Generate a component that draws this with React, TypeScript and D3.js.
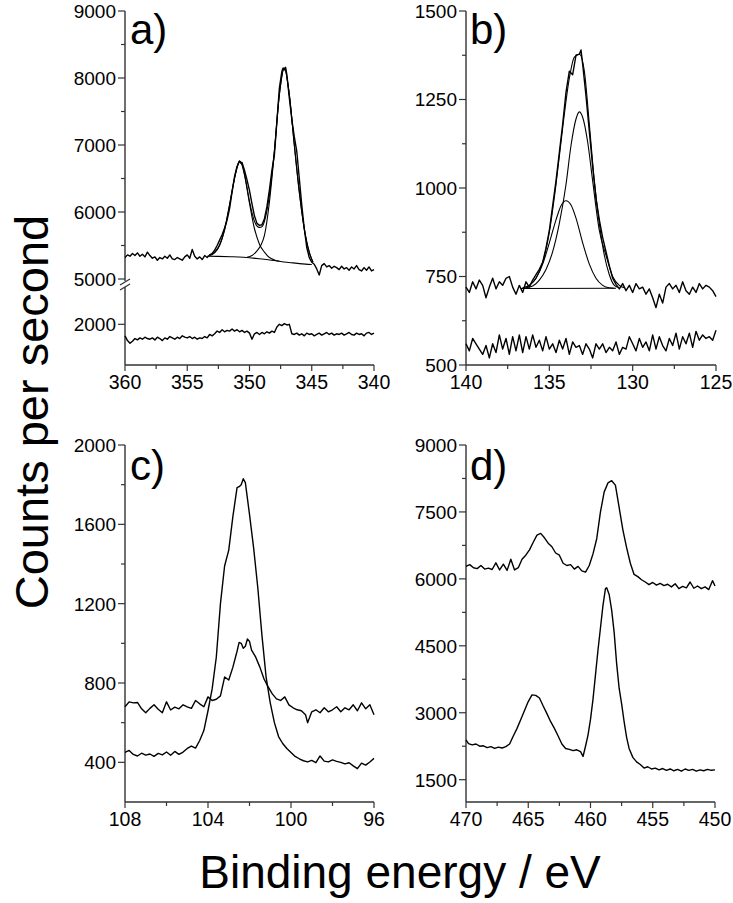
import * as d3 from 'd3';
import * as React from 'react';

type Pt = [number, number];

// a) 360-340 eV, fitted spectrum (top) and second spectrum below the axis break
const aRaw: Pt[] = [
  [360.0, 5320], [359.8, 5360], [359.6, 5340], [359.4, 5380], [359.2, 5350], [359.0, 5390], [358.8, 5340],
  [358.6, 5370], [358.4, 5330], [358.2, 5400], [358.0, 5350], [357.8, 5310], [357.6, 5330], [357.4, 5280],
  [357.2, 5320], [357.0, 5300], [356.8, 5340], [356.6, 5310], [356.4, 5360], [356.2, 5300], [356.0, 5290],
  [355.8, 5320], [355.6, 5300], [355.4, 5280], [355.2, 5330], [355.0, 5360], [354.8, 5310], [354.6, 5440],
  [354.4, 5340], [354.2, 5300], [354.0, 5330], [353.8, 5290], [353.6, 5350], [353.4, 5320], [353.2, 5360],
  [353.0, 5380], [352.8, 5430], [352.6, 5500], [352.4, 5580], [352.2, 5660], [352.0, 5760], [351.8, 5880],
  [351.6, 6050], [351.4, 6300], [351.2, 6530], [351.0, 6680], [350.8, 6760], [350.7, 6730], [350.6, 6740],
  [350.4, 6620], [350.2, 6480], [350.0, 6320], [349.8, 6120], [349.6, 5940], [349.4, 5830], [349.2, 5800],
  [349.0, 5810], [348.8, 5900], [348.6, 6080], [348.4, 6330], [348.2, 6620], [348.0, 6850], [347.8, 7350],
  [347.6, 7850], [347.4, 8100], [347.3, 8150], [347.2, 8120], [347.1, 8160], [347.0, 8050], [346.8, 7700],
  [346.6, 7380], [346.4, 7120], [346.2, 6900], [346.0, 6500], [345.8, 6100], [345.6, 5750], [345.4, 5470],
  [345.2, 5320], [345.0, 5250], [344.8, 5220], [344.6, 5150], [344.4, 5060], [344.2, 5200], [344.0, 5230],
  [343.8, 5180], [343.6, 5200], [343.4, 5160], [343.2, 5190], [343.0, 5170], [342.8, 5140], [342.6, 5190],
  [342.4, 5150], [342.2, 5170], [342.0, 5130], [341.8, 5180], [341.6, 5150], [341.4, 5200], [341.2, 5140],
  [341.0, 5120], [340.8, 5170], [340.6, 5130], [340.4, 5180], [340.2, 5120], [340.0, 5140],
];
const aFit: Pt[] = [
  [353.2, 5360], [352.8, 5400], [352.4, 5510], [352.0, 5745], [351.6, 6115], [351.2, 6510], [351.0, 6670],
  [350.8, 6760], [350.6, 6715], [350.4, 6570], [350.0, 6160], [349.6, 5860], [349.2, 5770], [349.0, 5780],
  [348.8, 5860], [348.4, 6250], [348.0, 6920], [347.6, 7760], [347.2, 8150], [346.8, 7750], [346.4, 7000],
  [346.0, 6300], [345.6, 5750], [345.2, 5400], [344.9, 5250],
];
const aPeak1: Pt[] = [
  [353.2, 5350], [352.8, 5390], [352.4, 5500], [352.0, 5730], [351.6, 6100], [351.2, 6500], [351.0, 6660],
  [350.8, 6750], [350.6, 6700], [350.4, 6550], [350.0, 6130], [349.6, 5750], [349.2, 5520], [348.8, 5400],
  [348.4, 5320], [348.0, 5285], [347.6, 5265],
];
const aPeak2: Pt[] = [
  [350.2, 5325], [349.8, 5350], [349.4, 5420], [349.1, 5500], [348.8, 5650], [348.4, 6150], [348.0, 6900],
  [347.6, 7750], [347.2, 8150], [346.8, 7750], [346.4, 7000], [346.0, 6300], [345.6, 5750], [345.2, 5400],
  [344.9, 5250],
];
const aBackground: Pt[] = [
  [353.4, 5340], [352.5, 5338], [351.5, 5333], [350.5, 5325], [350.0, 5318], [349.5, 5308], [349.0, 5298],
  [348.5, 5288], [348.0, 5276], [347.5, 5262], [347.0, 5250], [346.5, 5240], [346.0, 5230], [345.5, 5222],
  [345.0, 5216],
];
const aLower: Pt[] = [
  [360.0, 1830], [359.8, 1760], [359.6, 1720], [359.4, 1750], [359.2, 1790], [359.0, 1770], [358.8, 1800],
  [358.6, 1780], [358.4, 1810], [358.2, 1790], [358.0, 1780], [357.8, 1800], [357.6, 1770], [357.4, 1810],
  [357.2, 1790], [357.0, 1760], [356.8, 1800], [356.6, 1780], [356.4, 1820], [356.2, 1800], [356.0, 1780],
  [355.8, 1810], [355.6, 1790], [355.4, 1830], [355.2, 1810], [355.0, 1800], [354.8, 1820], [354.6, 1790],
  [354.4, 1810], [354.2, 1780], [354.0, 1800], [353.8, 1790], [353.6, 1820], [353.4, 1800], [353.2, 1850],
  [353.0, 1830], [352.8, 1860], [352.6, 1900], [352.4, 1880], [352.2, 1920], [352.0, 1890], [351.8, 1910],
  [351.6, 1900], [351.4, 1930], [351.2, 1900], [351.0, 1920], [350.8, 1890], [350.6, 1910], [350.4, 1880],
  [350.2, 1900], [350.0, 1870], [349.8, 1780], [349.6, 1860], [349.4, 1880], [349.2, 1850], [349.0, 1880],
  [348.8, 1860], [348.6, 1890], [348.4, 1870], [348.2, 1900], [348.0, 1880], [347.8, 1960], [347.6, 2000],
  [347.4, 1980], [347.2, 2010], [347.0, 1990], [346.8, 2000], [346.6, 1860], [346.4, 1850], [346.2, 1870],
  [346.0, 1840], [345.8, 1860], [345.6, 1830], [345.4, 1870], [345.2, 1850], [345.0, 1860], [344.8, 1830],
  [344.6, 1850], [344.4, 1870], [344.2, 1840], [344.0, 1860], [343.8, 1880], [343.6, 1850], [343.4, 1870],
  [343.2, 1840], [343.0, 1860], [342.8, 1850], [342.6, 1870], [342.4, 1840], [342.2, 1860], [342.0, 1880],
  [341.8, 1850], [341.6, 1840], [341.4, 1870], [341.2, 1850], [341.0, 1860], [340.8, 1830], [340.6, 1870],
  [340.4, 1880], [340.2, 1850], [340.0, 1870],
];

// b) 140-125 eV
const bRaw: Pt[] = [
  [140.0, 720], [139.8, 705], [139.6, 735], [139.4, 715], [139.2, 740], [139.0, 725], [138.8, 690],
  [138.6, 720], [138.4, 745], [138.2, 715], [138.0, 735], [137.8, 725], [137.6, 745], [137.4, 750],
  [137.2, 720], [137.0, 700], [136.8, 725], [136.6, 705], [136.4, 735], [136.2, 720], [136.0, 740],
  [135.8, 755], [135.6, 770], [135.4, 790], [135.2, 830], [135.0, 880], [134.8, 950], [134.6, 1020],
  [134.4, 1100], [134.2, 1180], [134.0, 1270], [133.8, 1330], [133.6, 1320], [133.4, 1375], [133.2, 1378],
  [133.1, 1390], [133.0, 1350], [132.8, 1260], [132.6, 1160], [132.4, 1060], [132.2, 970], [132.0, 910],
  [131.8, 860], [131.6, 820], [131.4, 780], [131.2, 745], [131.0, 728], [130.8, 715], [130.6, 730],
  [130.4, 710], [130.2, 725], [130.0, 705], [129.8, 730], [129.6, 715], [129.4, 720], [129.2, 700],
  [129.0, 715], [128.8, 690], [128.6, 662], [128.4, 700], [128.2, 675], [128.0, 720], [127.8, 730],
  [127.6, 715], [127.4, 725], [127.2, 705], [127.0, 735], [126.8, 710], [126.6, 700], [126.4, 720],
  [126.2, 705], [126.0, 730], [125.8, 715], [125.6, 725], [125.4, 720], [125.2, 710], [125.0, 693],
];
const bFit: Pt[] = [
  [136.6, 718], [136.2, 725], [135.8, 745], [135.4, 790], [135.0, 875], [134.6, 1010], [134.2, 1170],
  [133.8, 1310], [133.5, 1370], [133.2, 1378], [132.9, 1330], [132.6, 1180], [132.3, 1020], [132.0, 900],
  [131.7, 810], [131.4, 755], [131.1, 725], [130.8, 718],
];
const bPeak1: Pt[] = [
  [136.6, 718], [136.2, 725], [135.8, 745], [135.4, 785], [135.0, 845], [134.6, 910], [134.3, 950],
  [134.0, 964], [133.7, 952], [133.4, 915], [133.0, 845], [132.6, 785], [132.2, 745], [131.8, 725],
  [131.4, 718], [131.1, 717],
];
const bPeak2: Pt[] = [
  [136.4, 718], [136.0, 723], [135.6, 740], [135.2, 770], [134.8, 820], [134.4, 900], [134.0, 1010],
  [133.7, 1120], [133.4, 1195], [133.2, 1215], [133.0, 1200], [132.7, 1130], [132.4, 1020], [132.0, 880],
  [131.6, 810], [131.2, 750], [130.8, 725], [130.5, 718],
];
const bBackground: Pt[] = [[136.7, 716], [131.0, 717]];
const bLower: Pt[] = [
  [140.0, 560], [139.8, 540], [139.6, 575], [139.4, 560], [139.2, 545], [139.0, 530], [138.8, 555],
  [138.6, 520], [138.4, 560], [138.2, 535], [138.0, 585], [137.8, 545], [137.6, 575], [137.4, 530],
  [137.2, 580], [137.0, 540], [136.8, 585], [136.6, 535], [136.4, 580], [136.2, 545], [136.0, 585],
  [135.8, 550], [135.6, 570], [135.4, 540], [135.2, 580], [135.0, 545], [134.8, 560], [134.6, 535],
  [134.4, 570], [134.2, 545], [134.0, 575], [133.8, 530], [133.6, 565], [133.4, 550], [133.2, 555],
  [133.0, 530], [132.8, 560], [132.6, 545], [132.4, 520], [132.2, 560], [132.0, 545], [131.8, 560],
  [131.6, 535], [131.4, 550], [131.2, 540], [131.0, 565], [130.8, 530], [130.6, 550], [130.4, 545],
  [130.2, 580], [130.0, 560], [129.8, 540], [129.6, 575], [129.4, 550], [129.2, 565], [129.0, 540],
  [128.8, 585], [128.6, 545], [128.4, 580], [128.2, 555], [128.0, 540], [127.8, 575], [127.6, 555],
  [127.4, 590], [127.2, 545], [127.0, 580], [126.8, 560], [126.6, 590], [126.4, 550], [126.2, 595],
  [126.0, 570], [125.8, 585], [125.6, 575], [125.4, 580], [125.2, 570], [125.0, 598],
];

// c) 108-96 eV
const cTall: Pt[] = [
  [108.0, 450], [107.8, 460], [107.6, 440], [107.4, 432], [107.2, 446], [107.0, 436], [106.8, 442],
  [106.6, 430], [106.4, 445], [106.2, 438], [106.0, 452], [105.8, 436], [105.6, 455], [105.4, 440],
  [105.2, 452], [105.0, 470], [104.8, 482], [104.6, 472], [104.4, 510], [104.2, 560], [104.0, 660],
  [103.8, 770], [103.6, 930], [103.4, 1200], [103.2, 1390], [103.0, 1470], [102.8, 1640], [102.6, 1785],
  [102.5, 1790], [102.4, 1800], [102.3, 1830], [102.2, 1810], [102.0, 1650], [101.8, 1480], [101.6, 1280],
  [101.4, 1040], [101.2, 830], [101.0, 700], [100.8, 600], [100.6, 530], [100.4, 495], [100.2, 470],
  [100.0, 450], [99.8, 430], [99.6, 418], [99.4, 408], [99.2, 402], [99.0, 410], [98.8, 398],
  [98.6, 432], [98.4, 406], [98.2, 402], [98.0, 412], [97.8, 405], [97.6, 400], [97.4, 392],
  [97.2, 398], [97.0, 382], [96.8, 368], [96.6, 396], [96.4, 386], [96.2, 402], [96.0, 420],
];
const cShort: Pt[] = [
  [108.0, 680], [107.8, 705], [107.6, 700], [107.4, 702], [107.2, 670], [107.0, 650], [106.8, 672],
  [106.6, 690], [106.4, 668], [106.2, 650], [106.0, 705], [105.8, 664], [105.6, 678], [105.4, 670],
  [105.2, 690], [105.0, 680], [104.8, 672], [104.6, 712], [104.4, 695], [104.2, 680], [104.0, 730],
  [103.8, 712], [103.6, 718], [103.4, 735], [103.2, 830], [103.0, 815], [102.8, 880], [102.6, 960],
  [102.5, 1005], [102.4, 1000], [102.3, 975], [102.2, 985], [102.1, 1022], [102.0, 1010], [101.9, 966],
  [101.7, 930], [101.5, 880], [101.3, 820], [101.1, 780], [100.9, 745], [100.7, 720], [100.5, 712],
  [100.3, 730], [100.1, 690], [99.9, 675], [99.7, 665], [99.5, 660], [99.3, 640], [99.2, 600],
  [99.0, 655], [98.8, 665], [98.6, 650], [98.4, 675], [98.2, 655], [98.0, 665], [97.8, 680],
  [97.6, 655], [97.4, 675], [97.2, 665], [97.0, 690], [96.8, 660], [96.6, 700], [96.4, 670],
  [96.2, 690], [96.0, 640],
];

// d) 470-450 eV
const dUpper: Pt[] = [
  [470.0, 6280], [469.7, 6320], [469.4, 6250], [469.1, 6230], [468.8, 6300], [468.5, 6220], [468.2, 6240],
  [467.9, 6210], [467.6, 6360], [467.3, 6200], [467.0, 6330], [466.7, 6190], [466.4, 6440], [466.1, 6200],
  [465.8, 6250], [465.5, 6440], [465.2, 6530], [464.9, 6650], [464.6, 6820], [464.3, 6980], [464.0, 7020],
  [463.7, 6920], [463.4, 6800], [463.1, 6720], [462.8, 6580], [462.5, 6530], [462.2, 6350], [461.9, 6300],
  [461.6, 6320], [461.3, 6220], [461.0, 6280], [460.7, 6180], [460.4, 6150], [460.1, 6300], [459.8, 6560],
  [459.5, 6900], [459.2, 7500], [458.9, 7950], [458.6, 8150], [458.3, 8200], [458.0, 8100], [457.7, 7600],
  [457.4, 7100], [457.1, 6700], [456.8, 6350], [456.5, 6100], [456.2, 6050], [455.9, 5980], [455.6, 5930],
  [455.3, 5870], [455.0, 5920], [454.7, 5860], [454.4, 5900], [454.1, 5850], [453.8, 5880], [453.5, 5820],
  [453.2, 5890], [452.9, 5780], [452.6, 5830], [452.3, 5800], [452.0, 5930], [451.7, 5790], [451.4, 5840],
  [451.1, 5780], [450.8, 5820], [450.5, 5760], [450.2, 5960], [450.0, 5840],
];
const dLower: Pt[] = [
  [470.0, 2390], [469.8, 2310], [469.5, 2280], [469.2, 2300], [468.9, 2250], [468.6, 2260], [468.3, 2220],
  [468.0, 2240], [467.7, 2200], [467.4, 2230], [467.1, 2210], [466.8, 2240], [466.5, 2300], [466.2, 2480],
  [465.9, 2650], [465.6, 2850], [465.3, 3050], [465.0, 3250], [464.7, 3400], [464.4, 3390], [464.1, 3330],
  [463.8, 3150], [463.5, 2980], [463.2, 2800], [462.9, 2650], [462.6, 2480], [462.3, 2300], [462.0, 2200],
  [461.7, 2180], [461.4, 2150], [461.1, 2170], [460.8, 2130], [460.6, 2020], [460.4, 2250], [460.2, 2500],
  [460.0, 2850], [459.8, 3300], [459.6, 3850], [459.4, 4400], [459.2, 4900], [459.0, 5400], [458.8, 5780],
  [458.7, 5800], [458.5, 5650], [458.3, 5300], [458.1, 4800], [457.9, 4100], [457.7, 3550], [457.5, 3200],
  [457.3, 2800], [457.1, 2450], [456.9, 2200], [456.6, 2000], [456.3, 1900], [456.0, 1840], [455.7, 1760],
  [455.4, 1790], [455.1, 1740], [454.8, 1760], [454.5, 1720], [454.2, 1750], [453.9, 1710], [453.6, 1740],
  [453.3, 1700], [453.0, 1730], [452.7, 1690], [452.4, 1740], [452.1, 1710], [451.8, 1730], [451.5, 1690],
  [451.2, 1720], [450.9, 1700], [450.6, 1730], [450.3, 1710], [450.0, 1720],
];

// tick labels
const aXTicks = [360, 355, 350, 345, 340];
const aYTicksTop = [5000, 6000, 7000, 8000, 9000];
const aYTicksLow = [2000];
const bXTicks = [140, 135, 130, 125];
const bYTicks = [500, 750, 1000, 1250, 1500];
const cXTicks = [108, 104, 100, 96];
const cYTicks = [400, 800, 1200, 1600, 2000];
const dXTicks = [470, 465, 460, 455, 450];
const dYTicks = [1500, 3000, 4500, 6000, 7500, 9000];

const FONT = '"Liberation Sans", Arial, Helvetica, sans-serif';
const AXIS = '#333';

const App = () => {
  const ref = React.useRef<SVGSVGElement | null>(null);

  React.useEffect(() => {
    if (!ref.current) return;
    const svg = d3.select(ref.current);
    svg.selectAll('*').remove();
    const g = svg.append('g');

    const yAxis = (x0, y, major, minor, y0, y1) => {
      g.append('line').attr('x1', x0).attr('x2', x0).attr('y1', y0).attr('y2', y1)
        .attr('stroke', AXIS).attr('stroke-width', 1.4);
      major.forEach((v) => {
        g.append('line').attr('x1', x0 - 7).attr('x2', x0).attr('y1', y(v)).attr('y2', y(v))
          .attr('stroke', AXIS).attr('stroke-width', 1.2);
        g.append('text').attr('x', x0 - 9).attr('y', y(v)).attr('dy', '0.36em')
          .attr('text-anchor', 'end').style('font-family', FONT).style('font-size', '19px').text(v);
      });
      minor.forEach((v) => {
        g.append('line').attr('x1', x0 - 4).attr('x2', x0).attr('y1', y(v)).attr('y2', y(v))
          .attr('stroke', AXIS).attr('stroke-width', 1.2);
      });
    };

    const xAxis = (x, y0, major, minor) => {
      const [r0, r1] = x.range();
      g.append('line').attr('x1', r0).attr('x2', r1).attr('y1', y0).attr('y2', y0)
        .attr('stroke', AXIS).attr('stroke-width', 1.4);
      major.forEach((v) => {
        g.append('line').attr('x1', x(v)).attr('x2', x(v)).attr('y1', y0).attr('y2', y0 + 6)
          .attr('stroke', AXIS).attr('stroke-width', 1.2);
        g.append('text').attr('x', x(v)).attr('y', y0 + 24)
          .attr('text-anchor', 'middle').style('font-family', FONT).style('font-size', '19.5px').text(v);
      });
      minor.forEach((v) => {
        g.append('line').attr('x1', x(v)).attr('x2', x(v)).attr('y1', y0).attr('y2', y0 + 4)
          .attr('stroke', AXIS).attr('stroke-width', 1.2);
      });
    };

    const trace = (data, x, y, width, smooth = false) => {
      const line = d3.line<Pt>().x((d) => x(d[0])).y((d) => y(d[1]))
        .curve(smooth ? d3.curveMonotoneX : d3.curveLinear);
      g.append('path').attr('d', line(data)).attr('fill', 'none').attr('stroke', '#000')
        .attr('stroke-width', width).attr('stroke-linejoin', 'round');
    };

    const panelLabel = (x, y, t) => {
      g.append('text').attr('x', x).attr('y', y).style('font-family', FONT).style('font-size', '42px').text(t);
    };

    // a)
    const xa = d3.scaleLinear().domain([360, 340]).range([125, 374]);
    const yaTop = d3.scaleLinear().domain([5000, 9000]).range([279, 11]);
    const yaLow = d3.scaleLinear().domain([1400, 2550]).range([365, 287]);
    yAxis(125, yaTop, aYTicksTop, [5500, 6500, 7500, 8500], 281, 11);
    yAxis(125, yaLow, aYTicksLow, [], 365, 287);
    g.append('line').attr('x1', 120).attr('y1', 285).attr('x2', 130).attr('y2', 279).attr('stroke', AXIS).attr('stroke-width', 1.3);
    g.append('line').attr('x1', 120).attr('y1', 290).attr('x2', 130).attr('y2', 284).attr('stroke', AXIS).attr('stroke-width', 1.3);
    xAxis(xa, 365, aXTicks, [357.5, 352.5, 347.5, 342.5]);
    trace(aBackground, xa, yaTop, 1.1, true);
    trace(aPeak1, xa, yaTop, 1.1, true);
    trace(aPeak2, xa, yaTop, 1.1, true);
    trace(aFit, xa, yaTop, 1.1, true);
    trace(aRaw, xa, yaTop, 1.4);
    trace(aLower, xa, yaLow, 1.4);
    panelLabel(130, 44, 'a)');

    // b)
    const xb = d3.scaleLinear().domain([140, 125]).range([466, 716]);
    const yb = d3.scaleLinear().domain([500, 1500]).range([365, 11]);
    yAxis(466, yb, bYTicks, [625, 875, 1125, 1375], 365, 11);
    xAxis(xb, 365, bXTicks, [137.5, 132.5, 127.5]);
    trace(bBackground, xb, yb, 1.1);
    trace(bPeak1, xb, yb, 1.1, true);
    trace(bPeak2, xb, yb, 1.1, true);
    trace(bFit, xb, yb, 1.1, true);
    trace(bRaw, xb, yb, 1.4);
    trace(bLower, xb, yb, 1.4);
    panelLabel(470, 44, 'b)');

    // c)
    const xc = d3.scaleLinear().domain([108, 96]).range([125, 374]);
    const yc = d3.scaleLinear().domain([200, 2000]).range([802, 445]);
    yAxis(125, yc, cYTicks, [600, 1000, 1400, 1800], 802, 445);
    xAxis(xc, 802, cXTicks, [106, 102, 98]);
    trace(cShort, xc, yc, 1.4);
    trace(cTall, xc, yc, 1.4);
    panelLabel(130, 480, 'c)');

    // d)
    const xd = d3.scaleLinear().domain([470, 450]).range([466, 715]);
    const yd = d3.scaleLinear().domain([1000, 9000]).range([802, 445]);
    yAxis(466, yd, dYTicks, [2250, 3750, 5250, 6750, 8250], 802, 445);
    xAxis(xd, 802, dXTicks, [467.5, 462.5, 457.5, 452.5]);
    trace(dUpper, xd, yd, 1.4);
    trace(dLower, xd, yd, 1.4);
    panelLabel(470, 480, 'd)');

    // axis titles
    g.append('text').attr('transform', 'translate(48,412) rotate(-90)').attr('text-anchor', 'middle')
      .style('font-family', FONT).style('font-size', '47px').text('Counts per second');
    g.append('text').attr('x', 400).attr('y', 888).attr('text-anchor', 'middle')
      .style('font-family', FONT).style('font-size', '46px').text('Binding energy / eV');
  }, []);

  return (
    <svg ref={ref} width={733} height={903}
      style={{ position: 'absolute', left: 0, top: 0, background: '#fff' }} />
  );
};

export default App;
